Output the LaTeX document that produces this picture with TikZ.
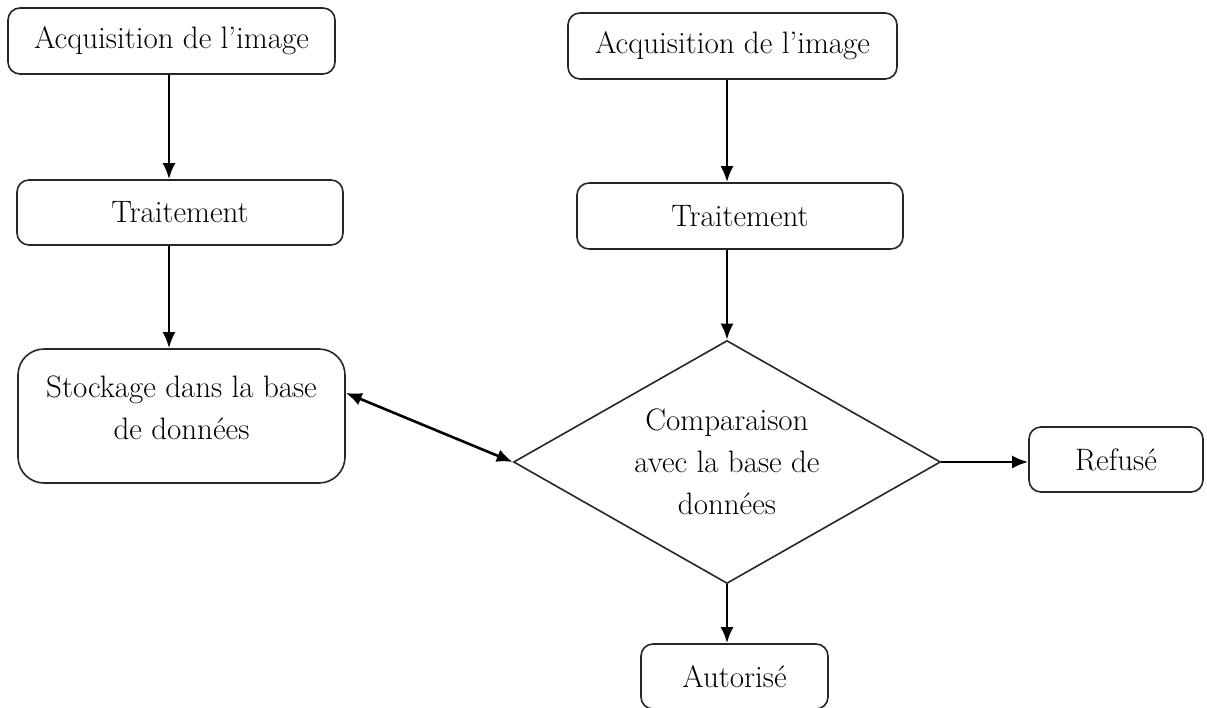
\documentclass[tikz,border=0pt]{standalone}
\usetikzlibrary{shapes.geometric,arrows.meta}
\begin{document}
\begin{tikzpicture}[x=1pt,y=-1pt,
  box/.style={draw=black!85, line width=1.6pt, rounded corners=12pt, inner sep=0pt,
    font=\fontsize{31}{42}\selectfont, align=center},
  bigbox/.style={box, rounded corners=26pt},
  decision/.style={diamond, draw=black!85, line width=1.6pt, inner sep=0pt, aspect=1.757,
    minimum width=427pt, minimum height=243pt, font=\fontsize{31}{42}\selectfont, align=center},
  arr/.style={line width=2.6pt, -{Latex[length=16pt,width=13pt]}},
  biarr/.style={line width=2.6pt, {Latex[length=16pt,width=13pt]}-{Latex[length=16pt,width=13pt]}}]
\useasboundingbox (0,0) rectangle (1207,707);
\clip (0,0) rectangle (1207,707);

\node[box, minimum width=327pt, minimum height=66pt] (a1) at (171.5,41) {Acquisition de l'image};
\node[box, minimum width=326pt, minimum height=65pt] (t1) at (180,212.5) {Traitement};
\node[bigbox, minimum width=327pt, minimum height=134pt] (s) at (181.5,416) {Stockage dans la base\\de données\\[-26pt]};

\node[box, minimum width=329pt, minimum height=66pt] (a2) at (732.5,46) {Acquisition de l'image};
\node[box, minimum width=326pt, minimum height=66pt] (t2) at (740,216) {Traitement};
\node[decision] (d) at (727,462) {Comparaison\\avec la base de\\données};
\node[box, minimum width=174pt, minimum height=65pt] (r) at (1116,459.5) {Refusé};
\node[box, minimum width=187pt, minimum height=65pt] (au) at (734.5,676.5) {Autorisé};

\coordinate (lx) at (169,0);
\draw[arr] (a1.south -| lx) -- (t1.north -| lx);
\draw[arr] (t1.south -| lx) -- (s.north -| lx);
\draw[arr] (a2.south -| d.north) -- (t2.north -| d.north);
\draw[arr] (t2.south -| d.north) -- (d.north);
\draw[biarr] (s.8) -- (d.west);
\draw[arr] (d.east) -- (d.east -| r.west);
\draw[arr] (d.south) -- (d.south |- au.north);
\end{tikzpicture}
\end{document}
